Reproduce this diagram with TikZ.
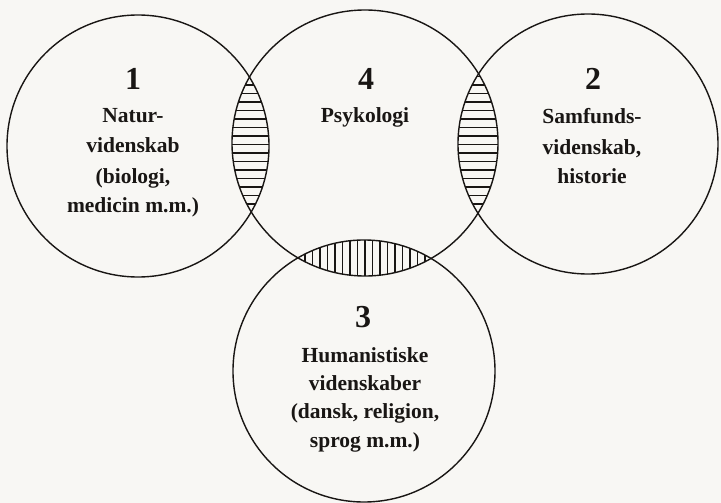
\documentclass[tikz,border=0pt]{standalone}
\usepackage{fontspec}
\setmainfont{Liberation Serif}
\definecolor{paper}{RGB}{248,247,244}
\definecolor{ink}{RGB}{25,22,20}
\begin{document}
\begin{tikzpicture}[x=1pt,y=-1pt,
  ring/.style={draw=ink, circle, line width=1.4pt, inner sep=0pt, outer sep=0pt},
  num/.style={font=\bfseries\fontsize{32}{32}\selectfont, text=ink, anchor=base, inner sep=0pt},
  lbl/.style={font=\bfseries\fontsize{21.5}{26}\selectfont, text=ink, anchor=base, inner sep=0pt},
  hatch/.style={draw=ink, line width=1.25pt}]
\fill[paper] (0,0) rectangle (721,503);
\useasboundingbox (0,0) rectangle (721,503);
% circles
\coordinate (o1) at (138,146);
\coordinate (o4) at (365,143);
\coordinate (o2) at (588,144);
\coordinate (o3) at (364,371);
% hatching of the overlaps
\begin{scope}
  \clip (o1) circle[radius=131pt];
  \clip (o4) circle[radius=133pt];
  \foreach \y in {68,76.5,...,226} \draw[hatch] (220,\y) -- (285,\y);
\end{scope}
\begin{scope}
  \clip (o2) circle[radius=130pt];
  \clip (o4) circle[radius=133pt];
  \foreach \y in {68,76.5,...,226} \draw[hatch] (445,\y) -- (505,\y);
\end{scope}
\begin{scope}
  \clip (o3) circle[radius=131pt];
  \clip (o4) circle[radius=133pt];
  \foreach \x in {290,297.5,...,440} \draw[hatch] (\x,230) -- (\x,285);
\end{scope}
\node[ring, minimum size=262pt] (c1) at (o1) {};
\node[ring, minimum size=266pt] (c4) at (o4) {};
\node[ring, minimum size=260pt] (c2) at (o2) {};
\node[ring, minimum size=262pt] (c3) at (o3) {};
% circle 1
\node[num] (n1) at (133,90) {1};
\node[lbl] (t1a) at (133,123) {Natur-};
\node[lbl] (t1b) at (133,153) {videnskab};
\node[lbl] (t1c) at (133,183) {(biologi,};
\node[lbl] (t1d) at (133,212) {medicin m.m.)};
% circle 4
\node[num] (n4) at (366,90) {4};
\node[lbl] (t4a) at (365,123) {Psykologi};
% circle 2
\node[num] (n2) at (593,90) {2};
\node[lbl] (t2a) at (592,124) {Samfunds-};
\node[lbl] (t2b) at (592,154) {videnskab,};
\node[lbl] (t2c) at (592,183) {historie};
% circle 3
\node[num] (n3) at (363,327) {3};
\node[lbl] (t3a) at (365,362) {Humanistiske};
\node[lbl] (t3b) at (365,390) {videnskaber};
\node[lbl] (t3c) at (365,418) {(dansk, religion,};
\node[lbl] (t3d) at (365,447) {sprog m.m.)};
\end{tikzpicture}
\end{document}
